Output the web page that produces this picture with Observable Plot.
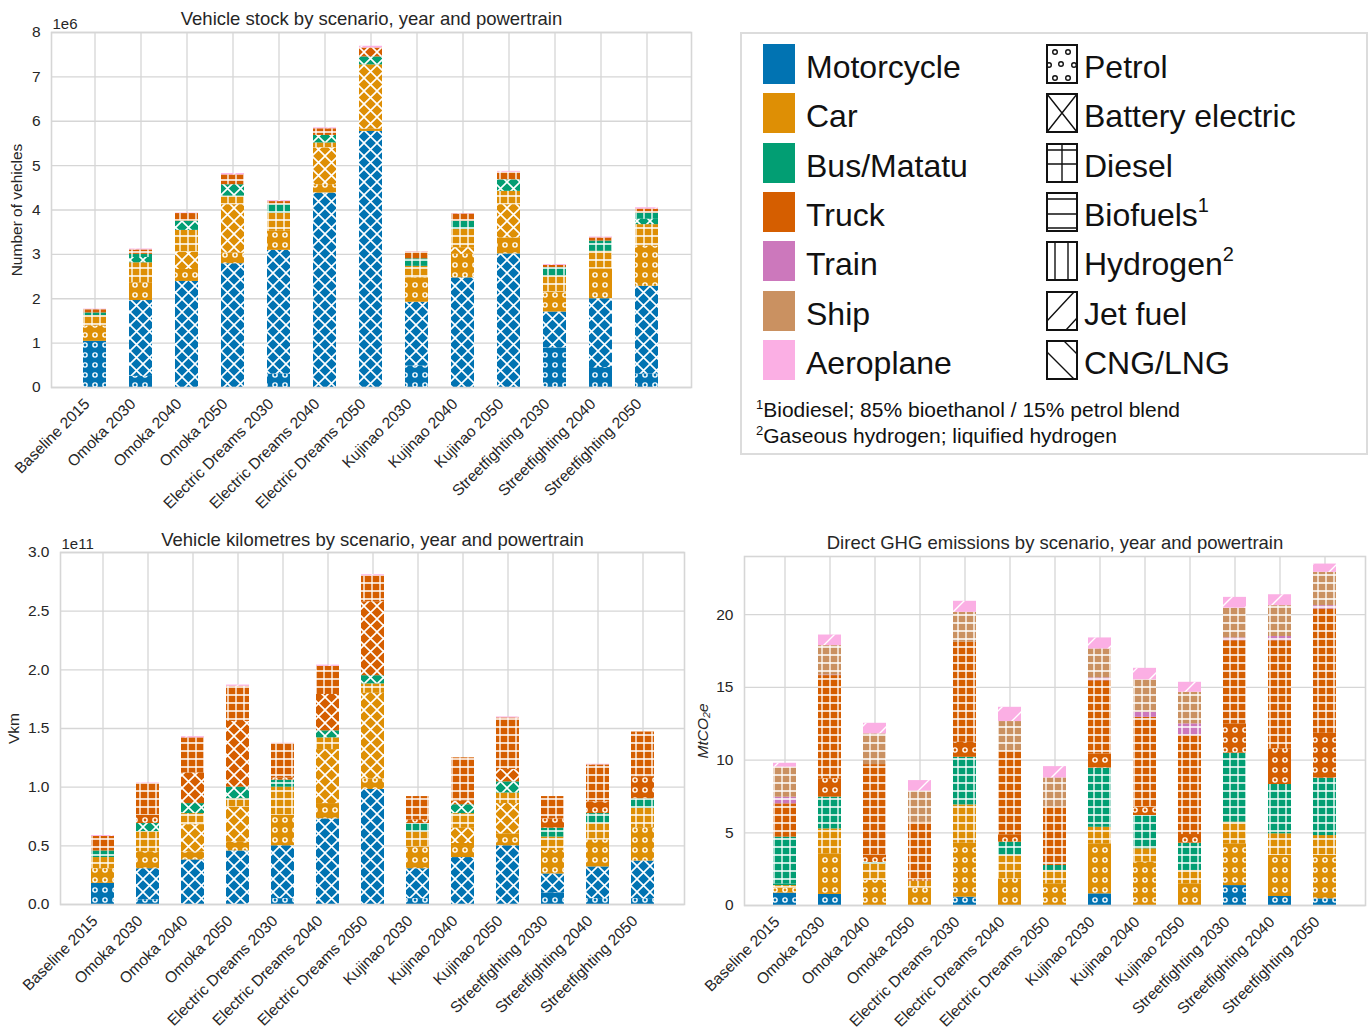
<!DOCTYPE html>
<html><head><meta charset="utf-8">
<script src="https://cdn.jsdelivr.net/npm/d3@7"></script>
<script src="https://cdn.jsdelivr.net/npm/@observablehq/plot@0.6"></script>
<style>
body{margin:0;background:#fff;font-family:"Liberation Sans",Arial,sans-serif;color:#262626}
#wrap{position:relative;width:1372px;height:1030px;overflow:hidden;background:#fff}
.panel{position:absolute}
#legend{position:absolute;left:740px;top:32px;width:624px;height:419px;border:2px solid #dcdcdc;background:#fff}
.sw{position:absolute;width:32px;height:40px}
.lt{position:absolute;font-size:32px;line-height:40px;color:#111;white-space:nowrap}
.lt sup{font-size:20px;vertical-align:top;line-height:20px;position:relative;top:0px}
.fn{position:absolute;left:14px;font-size:21px;color:#111;white-space:nowrap}
.fn sup{font-size:13px;vertical-align:top;position:relative;top:-1px}
</style></head><body>
<svg width="0" height="0" style="position:absolute">
 <defs>
  <pattern id="pat-petrol" patternUnits="userSpaceOnUse" width="10" height="10">
   <circle cx="5" cy="5" r="2.1" fill="none" stroke="#fff" stroke-width="1.4"/>
  </pattern>
  <pattern id="pat-bev" patternUnits="userSpaceOnUse" width="13" height="13">
   <path d="M0,0L13,13M13,0L0,13" stroke="#fff" stroke-width="1.6" fill="none"/>
  </pattern>
  <pattern id="pat-diesel" patternUnits="userSpaceOnUse" width="8" height="8">
   <path d="M4,0V8M0,4H8" stroke="#fff" stroke-width="1.3" fill="none"/>
  </pattern>
  <pattern id="pat-bio" patternUnits="userSpaceOnUse" width="8" height="8">
   <path d="M0,4H8" stroke="#fff" stroke-width="1.3" fill="none"/>
  </pattern>
  <pattern id="pat-h2" patternUnits="userSpaceOnUse" width="8" height="8">
   <path d="M4,0V8" stroke="#fff" stroke-width="1.3" fill="none"/>
  </pattern>
  <pattern id="pat-jet" patternUnits="userSpaceOnUse" width="24" height="24">
   <path d="M0,24L24,0M-2,2L2,-2M22,26L26,22" stroke="#fff" stroke-width="1.4" fill="none"/>
  </pattern>
  <pattern id="pat-cng" patternUnits="userSpaceOnUse" width="24" height="24">
   <path d="M0,0L24,24M-2,22L2,26M22,-2L26,2" stroke="#fff" stroke-width="1.4" fill="none"/>
  </pattern>
 </defs>
</svg>
<div id="wrap">
 <div id="c1" class="panel" style="left:0;top:0"></div>
 <div id="c2" class="panel" style="left:0;top:515px"></div>
 <div id="c3" class="panel" style="left:690px;top:515px"></div>
 <div id="legend"></div>
</div>
<script>
// ---------- categories ----------
const scenarios = ["Baseline 2015","Omoka 2030","Omoka 2040","Omoka 2050","Electric Dreams 2030","Electric Dreams 2040","Electric Dreams 2050","Kujinao 2030","Kujinao 2040","Kujinao 2050","Streetfighting 2030","Streetfighting 2040","Streetfighting 2050"];
const vehicles = ["Motorcycle","Car","Bus/Matatu","Truck","Train","Ship","Aeroplane"];
const fuels = ["Petrol","Battery electric","Diesel","Biofuels","Hydrogen","Jet fuel","CNG/LNG"];
const fuelLabels = ["Petrol","Battery electric","Diesel","Biofuels<sup>1</sup>","Hydrogen<sup>2</sup>","Jet fuel","CNG/LNG"];
const footnotes = ["<sup>1</sup>Biodiesel; 85% bioethanol / 15% petrol blend","<sup>2</sup>Gaseous hydrogen; liquified hydrogen"];

// ---------- tick values ----------
const stockTicks = [0,1,2,3,4,5,6,7,8];
const vkmTicks = [0,0.5,1.0,1.5,2.0,2.5,3.0];
const ghgTicks = [0,5,10,15,20];

// ---------- Vehicle stock (units of 1e6 vehicles): [scenario, vehicle, fuel, value] ----------
const stockSegments = [
 ["Baseline 2015","Motorcycle","Petrol",1.04],["Baseline 2015","Car","Petrol",0.34],["Baseline 2015","Car","Diesel",0.24],["Baseline 2015","Bus/Matatu","Diesel",0.06],["Baseline 2015","Truck","Diesel",0.07],["Baseline 2015","Ship","Diesel",0.005],["Baseline 2015","Aeroplane","Jet fuel",0.01],
 ["Omoka 2030","Motorcycle","Petrol",0.25],["Omoka 2030","Motorcycle","Battery electric",1.71],["Omoka 2030","Car","Petrol",0.40],["Omoka 2030","Car","Diesel",0.45],["Omoka 2030","Bus/Matatu","Battery electric",0.12],["Omoka 2030","Bus/Matatu","Diesel",0.07],["Omoka 2030","Truck","Diesel",0.10],["Omoka 2030","Aeroplane","Jet fuel",0.02],
 ["Omoka 2040","Motorcycle","Battery electric",2.39],["Omoka 2040","Car","Petrol",0.27],["Omoka 2040","Car","Battery electric",0.39],["Omoka 2040","Car","Diesel",0.49],["Omoka 2040","Bus/Matatu","Battery electric",0.21],["Omoka 2040","Truck","Diesel",0.17],["Omoka 2040","Aeroplane","Jet fuel",0.01],
 ["Omoka 2050","Motorcycle","Battery electric",2.79],["Omoka 2050","Car","Petrol",0.24],["Omoka 2050","Car","Battery electric",1.09],["Omoka 2050","Car","Diesel",0.19],["Omoka 2050","Bus/Matatu","Battery electric",0.26],["Omoka 2050","Truck","Diesel",0.22],["Omoka 2050","Aeroplane","Jet fuel",0.03],
 ["Electric Dreams 2030","Motorcycle","Petrol",0.30],["Electric Dreams 2030","Motorcycle","Battery electric",2.79],["Electric Dreams 2030","Car","Petrol",0.43],["Electric Dreams 2030","Car","Diesel",0.41],["Electric Dreams 2030","Bus/Matatu","Diesel",0.19],["Electric Dreams 2030","Truck","Diesel",0.07],["Electric Dreams 2030","Aeroplane","Jet fuel",0.02],
 ["Electric Dreams 2040","Motorcycle","Battery electric",4.38],["Electric Dreams 2040","Car","Petrol",0.19],["Electric Dreams 2040","Car","Battery electric",0.83],["Electric Dreams 2040","Car","Diesel",0.11],["Electric Dreams 2040","Bus/Matatu","Battery electric",0.17],["Electric Dreams 2040","Truck","Diesel",0.15],["Electric Dreams 2040","Aeroplane","Jet fuel",0.02],
 ["Electric Dreams 2050","Motorcycle","Battery electric",5.77],["Electric Dreams 2050","Car","Petrol",0.05],["Electric Dreams 2050","Car","Battery electric",1.45],["Electric Dreams 2050","Bus/Matatu","Battery electric",0.18],["Electric Dreams 2050","Truck","Battery electric",0.20],["Electric Dreams 2050","Aeroplane","Jet fuel",0.04],
 ["Kujinao 2030","Motorcycle","Petrol",0.48],["Kujinao 2030","Motorcycle","Battery electric",1.44],["Kujinao 2030","Car","Petrol",0.55],["Kujinao 2030","Car","Diesel",0.26],["Kujinao 2030","Bus/Matatu","Diesel",0.17],["Kujinao 2030","Truck","Diesel",0.15],["Kujinao 2030","Aeroplane","Jet fuel",0.01],
 ["Kujinao 2040","Motorcycle","Battery electric",2.47],["Kujinao 2040","Car","Petrol",0.53],["Kujinao 2040","Car","Battery electric",0.15],["Kujinao 2040","Car","Diesel",0.41],["Kujinao 2040","Bus/Matatu","Diesel",0.19],["Kujinao 2040","Truck","Diesel",0.16],["Kujinao 2040","Aeroplane","Jet fuel",0.01],
 ["Kujinao 2050","Motorcycle","Battery electric",3.01],["Kujinao 2050","Car","Petrol",0.36],["Kujinao 2050","Car","Battery electric",0.75],["Kujinao 2050","Car","Diesel",0.30],["Kujinao 2050","Bus/Matatu","Battery electric",0.26],["Kujinao 2050","Truck","Diesel",0.17],["Kujinao 2050","Aeroplane","Jet fuel",0.02],
 ["Streetfighting 2030","Motorcycle","Petrol",0.89],["Streetfighting 2030","Motorcycle","Battery electric",0.81],["Streetfighting 2030","Car","Petrol",0.45],["Streetfighting 2030","Car","Diesel",0.36],["Streetfighting 2030","Bus/Matatu","Diesel",0.19],["Streetfighting 2030","Truck","Diesel",0.05],["Streetfighting 2030","Aeroplane","Jet fuel",0.02],
 ["Streetfighting 2040","Motorcycle","Petrol",0.45],["Streetfighting 2040","Motorcycle","Battery electric",1.55],["Streetfighting 2040","Car","Petrol",0.67],["Streetfighting 2040","Car","Diesel",0.40],["Streetfighting 2040","Bus/Matatu","Diesel",0.23],["Streetfighting 2040","Truck","Diesel",0.07],["Streetfighting 2040","Aeroplane","Jet fuel",0.02],
 ["Streetfighting 2050","Motorcycle","Petrol",0.30],["Streetfighting 2050","Motorcycle","Battery electric",1.98],["Streetfighting 2050","Car","Petrol",0.90],["Streetfighting 2050","Car","Diesel",0.49],["Streetfighting 2050","Bus/Matatu","Battery electric",0.12],["Streetfighting 2050","Bus/Matatu","Diesel",0.14],["Streetfighting 2050","Truck","Diesel",0.09],["Streetfighting 2050","Aeroplane","Jet fuel",0.03]
];

// ---------- Vehicle kilometres (units of 1e11 vkm) ----------
const vkmSegments = [
 ["Baseline 2015","Motorcycle","Petrol",0.18],["Baseline 2015","Car","Petrol",0.125],["Baseline 2015","Car","Diesel",0.095],["Baseline 2015","Bus/Matatu","Diesel",0.056],["Baseline 2015","Truck","Diesel",0.124],["Baseline 2015","Aeroplane","Jet fuel",0.008],
 ["Omoka 2030","Motorcycle","Petrol",0.04],["Omoka 2030","Motorcycle","Battery electric",0.265],["Omoka 2030","Car","Petrol",0.145],["Omoka 2030","Car","Diesel",0.17],["Omoka 2030","Bus/Matatu","Battery electric",0.07],["Omoka 2030","Truck","Petrol",0.07],["Omoka 2030","Truck","Diesel",0.27],["Omoka 2030","Aeroplane","Jet fuel",0.005],
 ["Omoka 2040","Motorcycle","Battery electric",0.38],["Omoka 2040","Car","Petrol",0.07],["Omoka 2040","Car","Battery electric",0.23],["Omoka 2040","Car","Diesel",0.095],["Omoka 2040","Bus/Matatu","Battery electric",0.085],["Omoka 2040","Truck","Battery electric",0.26],["Omoka 2040","Truck","Diesel",0.30],["Omoka 2040","Aeroplane","Jet fuel",0.01],
 ["Omoka 2050","Motorcycle","Battery electric",0.456],["Omoka 2050","Car","Petrol",0.074],["Omoka 2050","Car","Battery electric",0.30],["Omoka 2050","Car","Diesel",0.07],["Omoka 2050","Bus/Matatu","Battery electric",0.10],["Omoka 2050","Truck","Battery electric",0.56],["Omoka 2050","Truck","Diesel",0.30],["Omoka 2050","Aeroplane","Jet fuel",0.01],
 ["Electric Dreams 2030","Motorcycle","Petrol",0.05],["Electric Dreams 2030","Motorcycle","Battery electric",0.45],["Electric Dreams 2030","Car","Petrol",0.26],["Electric Dreams 2030","Car","Diesel",0.24],["Electric Dreams 2030","Bus/Matatu","Diesel",0.06],["Electric Dreams 2030","Truck","Petrol",0.02],["Electric Dreams 2030","Truck","Diesel",0.29],["Electric Dreams 2030","Aeroplane","Jet fuel",0.004],
 ["Electric Dreams 2040","Motorcycle","Battery electric",0.73],["Electric Dreams 2040","Car","Petrol",0.13],["Electric Dreams 2040","Car","Battery electric",0.46],["Electric Dreams 2040","Car","Diesel",0.10],["Electric Dreams 2040","Bus/Matatu","Battery electric",0.06],["Electric Dreams 2040","Truck","Battery electric",0.31],["Electric Dreams 2040","Truck","Diesel",0.24],["Electric Dreams 2040","Aeroplane","Jet fuel",0.01],
 ["Electric Dreams 2050","Motorcycle","Battery electric",0.98],["Electric Dreams 2050","Car","Petrol",0.09],["Electric Dreams 2050","Car","Battery electric",0.73],["Electric Dreams 2050","Car","Diesel",0.08],["Electric Dreams 2050","Bus/Matatu","Battery electric",0.07],["Electric Dreams 2050","Truck","Battery electric",0.63],["Electric Dreams 2050","Truck","Diesel",0.22],["Electric Dreams 2050","Aeroplane","Jet fuel",0.01],
 ["Kujinao 2030","Motorcycle","Petrol",0.05],["Kujinao 2030","Motorcycle","Battery electric",0.255],["Kujinao 2030","Car","Petrol",0.185],["Kujinao 2030","Car","Diesel",0.13],["Kujinao 2030","Bus/Matatu","Diesel",0.07],["Kujinao 2030","Truck","Petrol",0.03],["Kujinao 2030","Truck","Diesel",0.20],
 ["Kujinao 2040","Motorcycle","Battery electric",0.40],["Kujinao 2040","Car","Petrol",0.12],["Kujinao 2040","Car","Battery electric",0.13],["Kujinao 2040","Car","Diesel",0.125],["Kujinao 2040","Bus/Matatu","Battery electric",0.075],["Kujinao 2040","Truck","Battery electric",0.03],["Kujinao 2040","Truck","Diesel",0.37],
 ["Kujinao 2050","Motorcycle","Battery electric",0.50],["Kujinao 2050","Car","Petrol",0.10],["Kujinao 2050","Car","Battery electric",0.26],["Kujinao 2050","Car","Diesel",0.09],["Kujinao 2050","Bus/Matatu","Battery electric",0.095],["Kujinao 2050","Truck","Battery electric",0.105],["Kujinao 2050","Truck","Diesel",0.44],["Kujinao 2050","Aeroplane","Jet fuel",0.008],
 ["Streetfighting 2030","Motorcycle","Petrol",0.10],["Streetfighting 2030","Motorcycle","Battery electric",0.16],["Streetfighting 2030","Car","Petrol",0.20],["Streetfighting 2030","Car","Diesel",0.115],["Streetfighting 2030","Bus/Matatu","Diesel",0.075],["Streetfighting 2030","Truck","Petrol",0.08],["Streetfighting 2030","Truck","Diesel",0.19],
 ["Streetfighting 2040","Motorcycle","Petrol",0.05],["Streetfighting 2040","Motorcycle","Battery electric",0.27],["Streetfighting 2040","Car","Petrol",0.23],["Streetfighting 2040","Car","Diesel",0.14],["Streetfighting 2040","Bus/Matatu","Diesel",0.085],["Streetfighting 2040","Truck","Petrol",0.10],["Streetfighting 2040","Truck","Diesel",0.315],["Streetfighting 2040","Aeroplane","Jet fuel",0.005],
 ["Streetfighting 2050","Motorcycle","Petrol",0.05],["Streetfighting 2050","Motorcycle","Battery electric",0.32],["Streetfighting 2050","Car","Petrol",0.285],["Streetfighting 2050","Car","Diesel",0.165],["Streetfighting 2050","Bus/Matatu","Diesel",0.08],["Streetfighting 2050","Truck","Petrol",0.19],["Streetfighting 2050","Truck","Diesel",0.38]
];

// ---------- Direct GHG emissions (MtCO2e) ----------
const ghgSegments = [
 ["Baseline 2015","Motorcycle","Petrol",0.85],["Baseline 2015","Car","Petrol",0.35],["Baseline 2015","Car","Diesel",0.17],["Baseline 2015","Bus/Matatu","Petrol",0.10],["Baseline 2015","Bus/Matatu","Diesel",3.23],["Baseline 2015","Truck","Diesel",2.29],["Baseline 2015","Train","Diesel",0.46],["Baseline 2015","Ship","Diesel",2.06],["Baseline 2015","Aeroplane","Jet fuel",0.27],
 ["Omoka 2030","Motorcycle","Petrol",0.76],["Omoka 2030","Car","Petrol",2.79],["Omoka 2030","Car","Diesel",1.72],["Omoka 2030","Bus/Matatu","Diesel",2.18],["Omoka 2030","Truck","Petrol",1.26],["Omoka 2030","Truck","Diesel",7.10],["Omoka 2030","Train","Diesel",0.04],["Omoka 2030","Ship","Diesel",2.02],["Omoka 2030","Aeroplane","Jet fuel",0.73],
 ["Omoka 2040","Car","Petrol",1.72],["Omoka 2040","Car","Diesel",1.14],["Omoka 2040","Bus/Matatu","Diesel",0.09],["Omoka 2040","Truck","Petrol",0.52],["Omoka 2040","Truck","Diesel",6.22],["Omoka 2040","Ship","Diesel",2.11],["Omoka 2040","Aeroplane","Jet fuel",0.73],
 ["Omoka 2050","Car","Petrol",1.20],["Omoka 2050","Car","Diesel",0.47],["Omoka 2050","Truck","Petrol",0.10],["Omoka 2050","Truck","Diesel",3.96],["Omoka 2050","Ship","Diesel",2.13],["Omoka 2050","Aeroplane","Jet fuel",0.73],
 ["Electric Dreams 2030","Motorcycle","Petrol",0.57],["Electric Dreams 2030","Car","Petrol",3.71],["Electric Dreams 2030","Car","Diesel",2.64],["Electric Dreams 2030","Bus/Matatu","Diesel",3.27],["Electric Dreams 2030","Truck","Petrol",1.03],["Electric Dreams 2030","Truck","Diesel",6.88],["Electric Dreams 2030","Ship","Diesel",2.06],["Electric Dreams 2030","Aeroplane","Jet fuel",0.76],
 ["Electric Dreams 2040","Car","Petrol",1.83],["Electric Dreams 2040","Car","Diesel",1.61],["Electric Dreams 2040","Bus/Matatu","Diesel",0.91],["Electric Dreams 2040","Truck","Petrol",0.51],["Electric Dreams 2040","Truck","Diesel",5.72],["Electric Dreams 2040","Ship","Diesel",2.07],["Electric Dreams 2040","Aeroplane","Jet fuel",0.98],
 ["Electric Dreams 2050","Car","Petrol",1.49],["Electric Dreams 2050","Car","Diesel",0.92],["Electric Dreams 2050","Bus/Matatu","Diesel",0.34],["Electric Dreams 2050","Truck","Diesel",4.01],["Electric Dreams 2050","Ship","Diesel",2.01],["Electric Dreams 2050","Aeroplane","Jet fuel",0.78],
 ["Kujinao 2030","Motorcycle","Petrol",0.80],["Kujinao 2030","Car","Petrol",3.44],["Kujinao 2030","Car","Diesel",1.14],["Kujinao 2030","Bus/Matatu","Diesel",4.06],["Kujinao 2030","Truck","Petrol",0.98],["Kujinao 2030","Truck","Diesel",5.04],["Kujinao 2030","Train","Diesel",0.19],["Kujinao 2030","Ship","Diesel",1.99],["Kujinao 2030","Aeroplane","Jet fuel",0.76],
 ["Kujinao 2040","Car","Petrol",2.98],["Kujinao 2040","Car","Diesel",0.92],["Kujinao 2040","Bus/Matatu","Diesel",2.29],["Kujinao 2040","Truck","Petrol",0.57],["Kujinao 2040","Truck","Diesel",6.18],["Kujinao 2040","Train","Diesel",0.35],["Kujinao 2040","Ship","Diesel",2.22],["Kujinao 2040","Aeroplane","Jet fuel",0.80],
 ["Kujinao 2050","Car","Petrol",1.49],["Kujinao 2050","Car","Diesel",0.92],["Kujinao 2050","Bus/Matatu","Diesel",1.87],["Kujinao 2050","Truck","Petrol",0.60],["Kujinao 2050","Truck","Diesel",6.80],["Kujinao 2050","Train","Diesel",0.81],["Kujinao 2050","Ship","Diesel",2.17],["Kujinao 2050","Aeroplane","Jet fuel",0.69],
 ["Streetfighting 2030","Motorcycle","Petrol",1.37],["Streetfighting 2030","Car","Petrol",2.87],["Streetfighting 2030","Car","Diesel",1.49],["Streetfighting 2030","Bus/Matatu","Diesel",4.74],["Streetfighting 2030","Truck","Petrol",2.02],["Streetfighting 2030","Truck","Diesel",5.72],["Streetfighting 2030","Train","Diesel",0.19],["Streetfighting 2030","Ship","Diesel",2.04],["Streetfighting 2030","Aeroplane","Jet fuel",0.75],
 ["Streetfighting 2040","Motorcycle","Petrol",0.62],["Streetfighting 2040","Car","Petrol",2.82],["Streetfighting 2040","Car","Diesel",1.49],["Streetfighting 2040","Bus/Matatu","Diesel",3.39],["Streetfighting 2040","Truck","Petrol",2.45],["Streetfighting 2040","Truck","Diesel",7.44],["Streetfighting 2040","Train","Diesel",0.29],["Streetfighting 2040","Ship","Diesel",2.12],["Streetfighting 2040","Aeroplane","Jet fuel",0.75],
 ["Streetfighting 2050","Motorcycle","Petrol",0.46],["Streetfighting 2050","Car","Petrol",2.98],["Streetfighting 2050","Car","Diesel",1.37],["Streetfighting 2050","Bus/Matatu","Diesel",3.94],["Streetfighting 2050","Truck","Petrol",3.09],["Streetfighting 2050","Truck","Diesel",8.55],["Streetfighting 2050","Train","Diesel",0.23],["Streetfighting 2050","Ship","Diesel",2.29],["Streetfighting 2050","Aeroplane","Jet fuel",0.57]
];

// ---------- styles (kept apart from data) ----------
const vehiclePalette = ["#0173b2","#de8f05","#029e73","#d55e00","#cc78bc","#ca9161","#fbafe4"];
const fuelPatternIds = ["pat-petrol","pat-bev","pat-diesel","pat-bio","pat-h2","pat-jet","pat-cng"];
const FONT = "'Liberation Sans', Arial, sans-serif";
const GRID = "#d6d6d6";

function chart(rows, cfg) {
  const data = rows.map(([scenario, vehicle, fuel, value]) => ({scenario, vehicle, fuel, value}));
  const colorOf = d => vehiclePalette[vehicles.indexOf(d.vehicle)];
  const patternOf = d => `url(#${fuelPatternIds[fuels.indexOf(d.fuel)]})`;
  const marks = [
    Plot.gridY(cfg.yTicks, {stroke: GRID, strokeOpacity: 1, strokeWidth: 1.3}),
    Plot.gridX({stroke: GRID, strokeOpacity: 1, strokeWidth: 1.3}),
    Plot.barY(data, {x: "scenario", y: "value", fill: colorOf}),
    Plot.barY(data, {x: "scenario", y: "value", fill: patternOf}),
    Plot.frame({stroke: GRID, strokeWidth: 1.6}),
    Plot.axisY(cfg.yTicks, {tickSize: 0, tickPadding: 11, tickFormat: cfg.fmt, label: null, fontSize: 15.5}),
    Plot.axisX({tickRotate: -45, tickSize: 0, tickPadding: 14, dx: -8, label: null, fontSize: 15.5}),
    Plot.text([cfg.title], {text: d => d, frameAnchor: "top", textAnchor: "middle", lineAnchor: "bottom", dy: cfg.titleDy, fontSize: 18.5, fill: "#262626"}),
    Plot.text([cfg.ylabel], {text: d => d, frameAnchor: "left", textAnchor: "middle", rotate: -90, dx: cfg.ylabelDx, fontSize: 15.5, fill: "#262626", fontStyle: cfg.italic ? "italic" : "normal"})
  ];
  if (cfg.offset) marks.push(Plot.text([cfg.offset], {text: d => d, frameAnchor: "top-left", textAnchor: "start", lineAnchor: "bottom", dx: 1, dy: -4, fontSize: 15, fill: "#262626"}));
  return Plot.plot({
    width: cfg.width, height: cfg.height,
    marginLeft: cfg.ml, marginRight: cfg.mr, marginTop: cfg.mt, marginBottom: cfg.mb,
    style: {fontFamily: FONT, fontSize: "15.5px", color: "#262626", background: "none", overflow: "visible"},
    x: {domain: scenarios, range: cfg.xRange, padding: 0.5},
    y: {domain: cfg.yDomain},
    color: {type: "identity"},
    marks
  });
}

document.getElementById("c1").append(chart(stockSegments, {
  width: 700, height: 510, ml: 51, mr: 9, mt: 32, mb: 123,
  xRange: [57.1, 684.9], yDomain: [0, 8], yTicks: stockTicks, fmt: d3.format("d"),
  title: "Vehicle stock by scenario, year and powertrain", titleDy: -8,
  ylabel: "Number of vehicles", ylabelDx: -34, offset: "1e6"
}));
document.getElementById("c2").append(chart(vkmSegments, {
  width: 690, height: 515, ml: 60, mr: 6, mt: 37, mb: 126,
  xRange: [66, 678], yDomain: [0, 3], yTicks: vkmTicks, fmt: d3.format(".1f"),
  title: "Vehicle kilometres by scenario, year and powertrain", titleDy: -7,
  ylabel: "Vkm", ylabelDx: -46, offset: "1e11"
}));
document.getElementById("c3").append(chart(ghgSegments, {
  width: 682, height: 515, ml: 54, mr: 7, mt: 41, mb: 125,
  xRange: [60.5, 668.8], yDomain: [0, 24], yTicks: ghgTicks, fmt: d3.format("d"),
  title: "Direct GHG emissions by scenario, year and powertrain", titleDy: -8,
  ylabel: "MtCO\u2082e", ylabelDx: -41, italic: true
}));

// ---------- legend ----------
const fuelGlyphs = [
  '<circle cx="9" cy="8" r="2.3"/><circle cx="22" cy="8" r="2.3"/><circle cx="15" cy="20" r="2.3"/><circle cx="3" cy="21" r="2.3"/><circle cx="28" cy="21" r="2.3"/><circle cx="9" cy="34" r="2.3"/><circle cx="22" cy="34" r="2.3"/>',
  '<path d="M1,1L31,39M31,1L1,39"/>',
  '<path d="M16,1V39M1,7H31M1,21H31"/>',
  '<path d="M1,7H31M1,22H31M1,36H31"/>',
  '<path d="M9,1V39M22,1V39"/>',
  '<path d="M1,30L28,1M20,39L31,27"/>',
  '<path d="M1,12L28,39M18,1L31,14"/>'
];
const leg = document.getElementById("legend");
const rowTop = i => 10 + i * 49.3;
vehicles.forEach((v, i) => {
  const s = document.createElement("div");
  s.className = "sw"; s.style.left = "21px"; s.style.top = rowTop(i) + "px"; s.style.background = vehiclePalette[i];
  leg.append(s);
  const t = document.createElement("div");
  t.className = "lt"; t.style.left = "64px"; t.style.top = (rowTop(i) + 3) + "px"; t.textContent = v;
  leg.append(t);
});
fuels.forEach((f, i) => {
  const s = document.createElement("div");
  s.className = "sw"; s.style.left = "304px"; s.style.top = rowTop(i) + "px";
  s.innerHTML = `<svg width="32" height="40" viewBox="0 0 32 40"><g fill="none" stroke="#111" stroke-width="1.4">${fuelGlyphs[i]}</g><rect x="1" y="1" width="30" height="38" fill="none" stroke="#111" stroke-width="2"/></svg>`;
  leg.append(s);
  const t = document.createElement("div");
  t.className = "lt"; t.style.left = "342px"; t.style.top = (rowTop(i) + 3) + "px"; t.innerHTML = fuelLabels[i];
  leg.append(t);
});
footnotes.forEach((f, i) => {
  const t = document.createElement("div");
  t.className = "fn"; t.style.top = (364 + i * 26) + "px"; t.innerHTML = f;
  leg.append(t);
});
</script>
</body></html>
